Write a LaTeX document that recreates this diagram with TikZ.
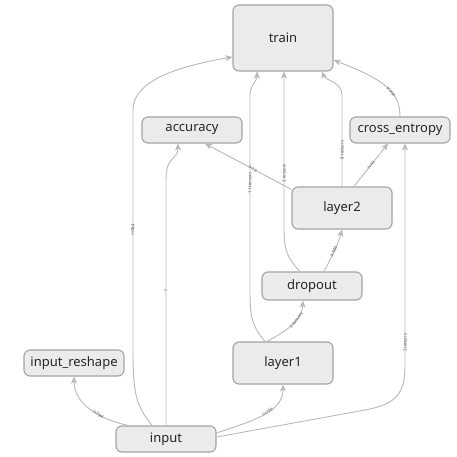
\documentclass[tikz,border=0pt]{standalone}
\usepackage{fontspec}
\setmainfont{Noto Sans}
\usepackage{tikz}
\usetikzlibrary{arrows.meta}

\definecolor{opfill}{HTML}{EBEBEB}
\definecolor{opline}{HTML}{A3A3A3}
\definecolor{edgeline}{HTML}{B8B8B8}
\definecolor{optext}{HTML}{262626}

\begin{document}
\begin{tikzpicture}[x=1pt, y=-1pt,
    op/.style={draw=opline, fill=opfill, line width=1.1pt, rounded corners=6pt,
      minimum width=100pt, minimum height=26pt, inner sep=0pt, text=optext,
      font=\fontsize{13}{15}\selectfont},
    big op/.style={op, minimum height=42pt},
    flow/.style={draw=edgeline, line width=0.9pt,
      -{Stealth[length=7pt, width=6pt, inset=2pt]}},
    shape label/.style={sloped, inner sep=0.5pt, text=gray!60!black,
      font=\fontsize{4.2}{5}\selectfont}]
  \useasboundingbox (0,0) rectangle (457,457);

  %% *** ops ***
  \node [op, minimum height=66pt] (train) at (283,38) {train};
  \node [op] (accuracy) at (192,130) {accuracy};
  \node [op] (xent) at (400,130) {cross\_entropy};
  \node [big op] (layer2) at (342,208) {layer2};
  \node [op, minimum height=28pt] (dropout) at (312,286) {dropout};
  \node [big op] (layer1) at (283,363) {layer1};
  \node [op] (reshape) at (74,363) {input\_reshape};
  \node [op] (input) at (166,439) {input};

  %% *** from input ***
  \draw [flow] ([xshift=-14pt]input.north) .. controls (136,405) and (133,395) .. (133,350)
    -- node [shape label, pos=0.5] {?×784} (133,110)
    .. controls (133,80) and (180,66) .. ([yshift=-19pt]train.west);
  \draw [flow] (input.north) -- node [shape label, pos=0.55] {?} (166,180)
    .. controls (166,155) and (178,160) .. ([xshift=-14pt]accuracy.south);
  \draw [flow] ([xshift=-38pt]input.north) .. controls (95,418) and (74,402)
    .. node [shape label, pos=0.35] {?×784} (reshape.south);
  \draw [flow] ([yshift=6pt]input.east) .. controls (255,420) and (283,412)
    .. node [shape label, pos=0.55] {?×784} (layer1.south);
  \draw [flow] ([yshift=2pt]input.east) -- (365,410)
    .. controls (398,404) and (405,392) .. (405,365)
    -- node [shape label, pos=0.1] {2 tensors} ([xshift=5pt]xent.south);

  %% *** into train ***
  \draw [flow] ([xshift=-18pt]layer1.north) .. controls (251,325) and (250,315) .. (250,290)
    -- node [shape label, pos=0.55] {11 tensors} (250,95)
    .. controls (250,85) and (257,82) .. ([xshift=-26pt]train.south);
  \draw [flow] ([xshift=-12pt]dropout.north) .. controls (287,258) and (284,250) .. (284,228)
    -- node [shape label, pos=0.35] {3 tensors} ([xshift=1pt]train.south);
  \draw [flow] (layer2.north) -- node [shape label, pos=0.4] {8 tensors} (342,95)
    .. controls (342,82) and (325,80) .. ([xshift=39pt]train.south);
  \draw [flow] (xent.north) .. controls (400,92) and (385,80)
    .. node [shape label, pos=0.4] {scalar} ([yshift=-22pt]train.east);

  %% *** between layers ***
  \draw [flow] ([xshift=-16pt]layer1.north) .. controls (298,325) and (302,315)
    .. node [shape label, pos=0.5] {2 tensors} ([xshift=-9pt]dropout.south);
  \draw [flow] ([xshift=12pt]dropout.north) .. controls (330,260) and (338,245)
    .. node [shape label, pos=0.5] {?×500} (layer2.south);
  \draw [flow] ([yshift=-3pt]layer2.north west) -- node [shape label, pos=0.45] {?×10}
    ([xshift=13pt]accuracy.south);
  \draw [flow] ([xshift=12pt]layer2.north) -- node [shape label, pos=0.5] {?×10}
    ([xshift=-12pt]xent.south);
\end{tikzpicture}
\end{document}
